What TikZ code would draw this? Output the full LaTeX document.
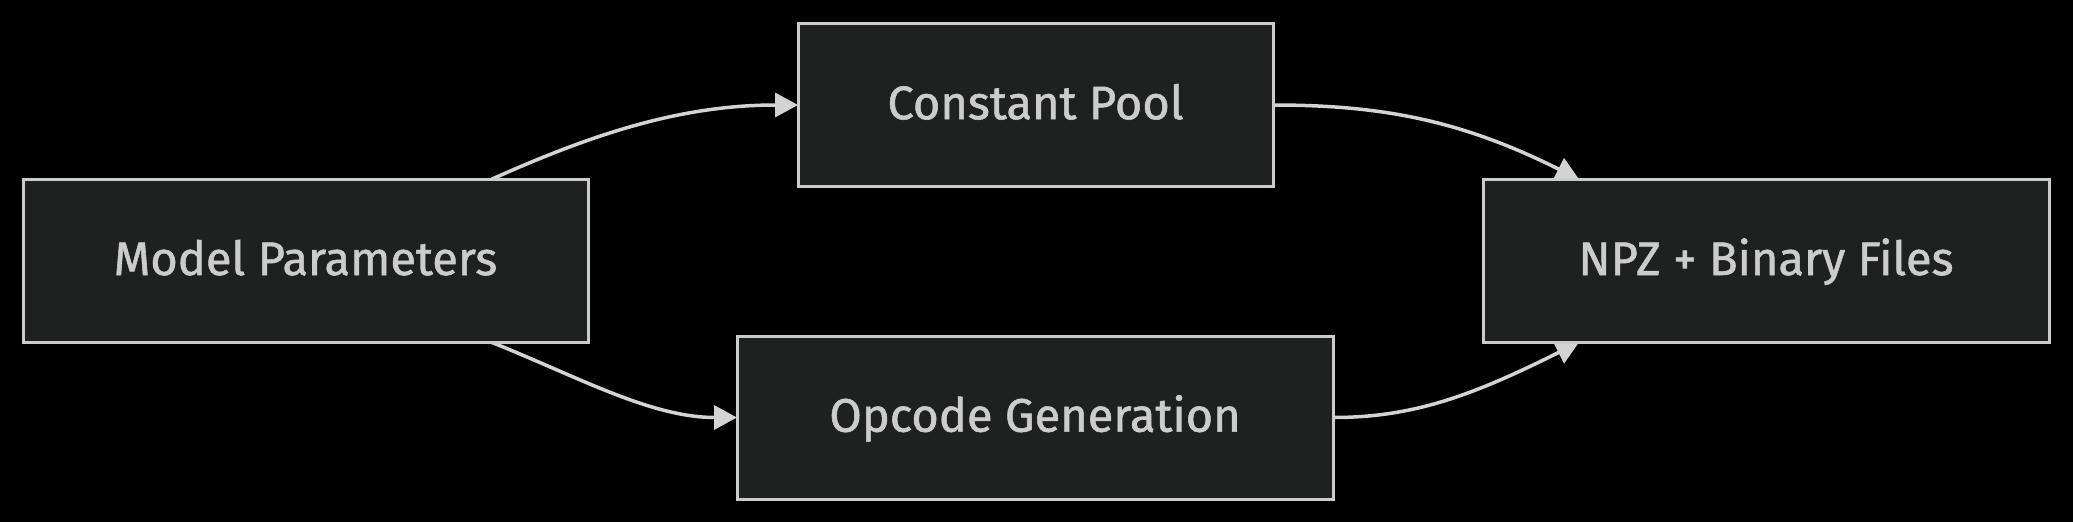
\documentclass[tikz,border=0pt]{standalone}
\usepackage{fontspec}
\setmainfont[FakeBold=1.2]{Fira Sans}
\usetikzlibrary{arrows.meta,calc}
\definecolor{bgc}{HTML}{000000}
\definecolor{boxfill}{HTML}{1F2020}
\definecolor{boxline}{HTML}{CCCCCC}
\definecolor{txt}{HTML}{CCCCCC}
\definecolor{edgec}{HTML}{D3D3D3}
\pgfdeclarelayer{background}
\pgfsetlayers{background,main}
\begin{document}
\begin{tikzpicture}[x=1pt,y=-1pt,
  box/.style={draw=boxline, fill=boxfill, line width=3pt, text=txt,
    font=\fontsize{47}{56}\selectfont, inner sep=0pt, outer sep=0pt,
    text height=37.6pt, text depth=9.2pt,
    minimum height=163pt, anchor=center},
  flow/.style={draw=edgec, line width=3.5pt, -{Triangle[length=23pt,width=24pt]}}]
\useasboundingbox (0,0) rectangle (2073,522);
\node[box, minimum width=565pt] (mp) at (305.5,260.8) {Model Parameters};
\node[box, minimum width=475pt] (cp) at (1035.5,105) {Constant Pool};
\node[box, minimum width=596pt] (og) at (1035,417.5) {Opcode Generation};
\node[box, minimum width=566pt] (npz) at (1766,260.8) {NPZ + Binary Files};
\begin{pgfonlayer}{background}
\fill[bgc] (0,0) rectangle (2073,522);
\draw[flow] ($(mp.north)+(186,0)$) .. controls ($(mp.north)+(286,-44.8)$) and ($(cp.west)+(-118,0)$) .. (cp.west);
\draw[flow] (cp.east) .. controls ($(cp.east)+(111,0)$) and ($(npz.north)+(-303.2,-58.1)$) .. ($(npz.north)+(-187,0)$);
\draw[flow] ($(mp.south)+(186,0)$) .. controls ($(mp.south)+(270,33.3)$) and ($(og.west)+(-87,0)$) .. (og.west);
\draw[flow] (og.east) .. controls ($(og.east)+(80,0)$) and ($(npz.south)+(-294.3,53.6)$) .. ($(npz.south)+(-187,0)$);
\end{pgfonlayer}
\end{tikzpicture}
\end{document}
